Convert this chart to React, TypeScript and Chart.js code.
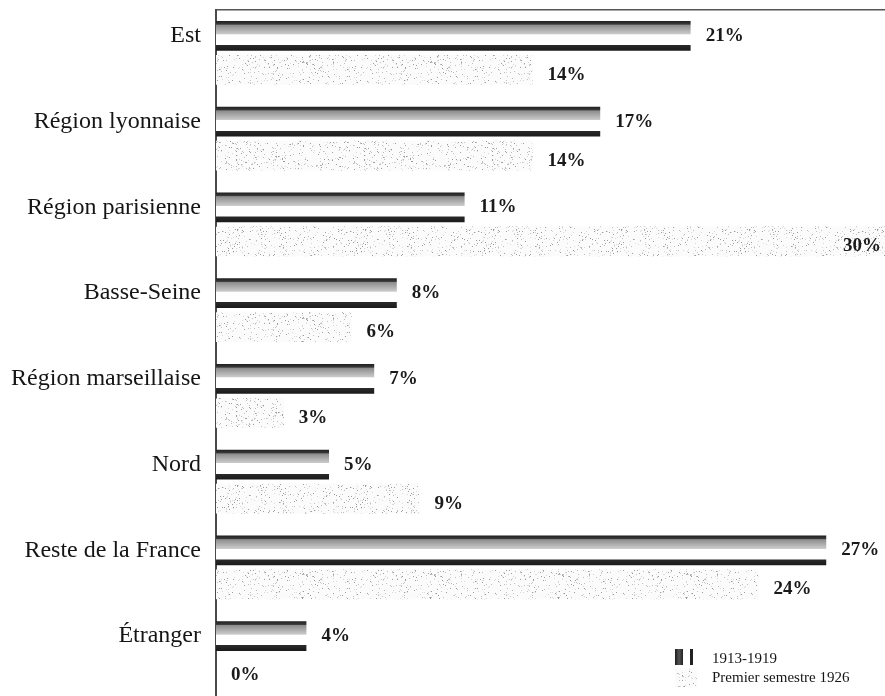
import React, { useEffect, useRef } from "react";
import { Chart, registerables } from "chart.js";

Chart.register(...registerables);

const categories = [
  "Est",
  "Région lyonnaise",
  "Région parisienne",
  "Basse-Seine",
  "Région marseillaise",
  "Nord",
  "Reste de la France",
  "Étranger",
];
const series1913 = [21, 17, 11, 8, 7, 5, 27, 4];
const series1926 = [14, 14, 30, 6, 3, 9, 24, 0];
const seriesNames = ["1913-1919", "Premier semestre 1926"];
const xMax = 29.6;

const CAT_PCT = 0.793;
const BAR_PCT = 0.88;
const SERIF = "'Liberation Serif', 'DejaVu Serif', serif";

function hash32(k: number): number {
  let h = Math.imul(k ^ 0x5bd1e995, 0x9e3779b1);
  h = Math.imul(h ^ (h >>> 16), 0x85ebca6b);
  h = Math.imul(h ^ (h >>> 13), 0xc2b2ae35);
  h = h ^ (h >>> 16);
  return h >>> 0;
}

function makeDotPattern(): CanvasPattern | string {
  const c = document.createElement("canvas");
  const n = 128;
  c.width = n;
  c.height = n;
  const g = c.getContext("2d");
  if (!g) return "#eeeeee";
  g.fillStyle = "#fbfbfb";
  g.fillRect(0, 0, n, n);
  for (let j = 0; j < n; j++) {
    for (let i = 0; i < n; i++) {
      const r = hash32(j * n + i) % 1000;
      if (r < 80) {
        g.fillStyle = r < 22 ? "#9c9c9c" : r < 50 ? "#bfbfbf" : "#d8d8d8";
        g.fillRect(i, j, 1, 1);
      }
    }
  }
  return g.createPattern(c, "repeat") || "#eeeeee";
}

export default function App() {
  const ref = useRef<HTMLCanvasElement | null>(null);

  useEffect(() => {
    document.body.style.margin = "0";
    const canvas = ref.current;
    if (!canvas) return;
    const dots = makeDotPattern();

    const barGradient = (ctx: any) => {
      const chart = ctx.chart;
      const y = chart.scales && chart.scales.y;
      if (!y || ctx.dataIndex === undefined) return "#555";
      const center = y.getPixelForValue(ctx.dataIndex);
      const band = (y.bottom - y.top) / categories.length;
      const slot = (band * CAT_PCT) / 2;
      const top = center - (band * CAT_PCT) / 2 + (slot * (1 - BAR_PCT)) / 2;
      const h = slot * BAR_PCT;
      if (!isFinite(top) || !isFinite(h) || h <= 0) return "#555";
      const gr = chart.ctx.createLinearGradient(0, top, 0, top + h);
      gr.addColorStop(0, "#1e1e1e");
      gr.addColorStop(0.11, "#3a3a3a");
      gr.addColorStop(0.14, "#8c8c8c");
      gr.addColorStop(0.44, "#cbcbcb");
      gr.addColorStop(0.46, "#ffffff");
      gr.addColorStop(0.8, "#ffffff");
      gr.addColorStop(0.81, "#2a2a2a");
      gr.addColorStop(1, "#1a1a1a");
      return gr;
    };

    const valueLabels = {
      id: "valueLabels",
      afterDatasetsDraw(chart: any) {
        const c = chart.ctx;
        const area = chart.chartArea;
        c.save();
        c.font = `bold 19px ${SERIF}`;
        c.fillStyle = "#1a1a1a";
        c.textBaseline = "middle";
        c.textAlign = "left";
        chart.data.datasets.forEach((ds: any, di: number) => {
          const meta = chart.getDatasetMeta(di);
          meta.data.forEach((el: any, i: number) => {
            const txt = `${ds.data[i]}%`;
            const w = c.measureText(txt).width;
            let x = Math.min(el.x, area.right) + 15;
            if (x + w > chart.width - 4) x = chart.width - 4 - w;
            const y = el.y + (di === 1 ? 5 : 0);
            c.fillText(txt, x, y);
          });
        });
        c.restore();
      },
    };

    const legendPlugin = {
      id: "cornerLegend",
      afterDraw(chart: any) {
        const c = chart.ctx;
        c.save();
        const g = c.createLinearGradient(675, 0, 683, 0);
        g.addColorStop(0, "#1a1a1a");
        g.addColorStop(0.5, "#555");
        g.addColorStop(1, "#222");
        c.fillStyle = g;
        c.fillRect(675, 649, 8, 16);
        c.fillStyle = "#222";
        c.fillRect(690, 649, 3, 16);
        c.fillStyle = dots as any;
        c.fillRect(675, 668, 22, 19);
        c.font = `15px ${SERIF}`;
        c.fillStyle = "#151515";
        c.textBaseline = "middle";
        c.textAlign = "left";
        c.fillText(seriesNames[0], 712, 659);
        c.fillText(seriesNames[1], 712, 678);
        c.restore();
      },
    };

    const chart = new Chart(canvas, {
      type: "bar",
      data: {
        labels: categories,
        datasets: [
          {
            label: seriesNames[0],
            data: series1913,
            backgroundColor: barGradient as any,
            borderWidth: 0,
            categoryPercentage: CAT_PCT,
            barPercentage: BAR_PCT,
          },
          {
            label: seriesNames[1],
            data: series1926,
            backgroundColor: dots as any,
            borderWidth: 0,
            categoryPercentage: CAT_PCT,
            barPercentage: BAR_PCT,
          },
        ],
      },
      options: {
        indexAxis: "y",
        responsive: false,
        animation: false,
        devicePixelRatio: 1,
        layout: { padding: { top: 10, right: 0, bottom: 0, left: 0 } },
        plugins: {
          legend: { display: false },
          tooltip: { enabled: false },
        },
        scales: {
          x: {
            position: "top",
            min: 0,
            max: xMax,
            ticks: { display: false },
            grid: { display: false, drawTicks: false },
            border: { display: true, color: "#555", width: 1.5 },
            afterFit: (scale: any) => {
              scale.height = 0;
              scale.paddingLeft = 0;
              scale.paddingRight = 0;
            },
          },
          y: {
            position: "left",
            ticks: {
              color: "#151515",
              font: { family: SERIF, size: 24 },
              padding: 15,
              labelOffset: -17,
            },
            grid: { display: false, drawTicks: false },
            border: { display: true, color: "#4a4a4a", width: 2 },
            afterFit: (scale: any) => {
              scale.width = 216;
              scale.paddingTop = 0;
              scale.paddingBottom = 0;
            },
          },
        },
      },
      plugins: [valueLabels, legendPlugin],
    });
    return () => chart.destroy();
  }, []);

  return (
    <div style={{ width: 885, height: 696, background: "#fff" }}>
      <canvas ref={ref} width={885} height={696} />
    </div>
  );
}
